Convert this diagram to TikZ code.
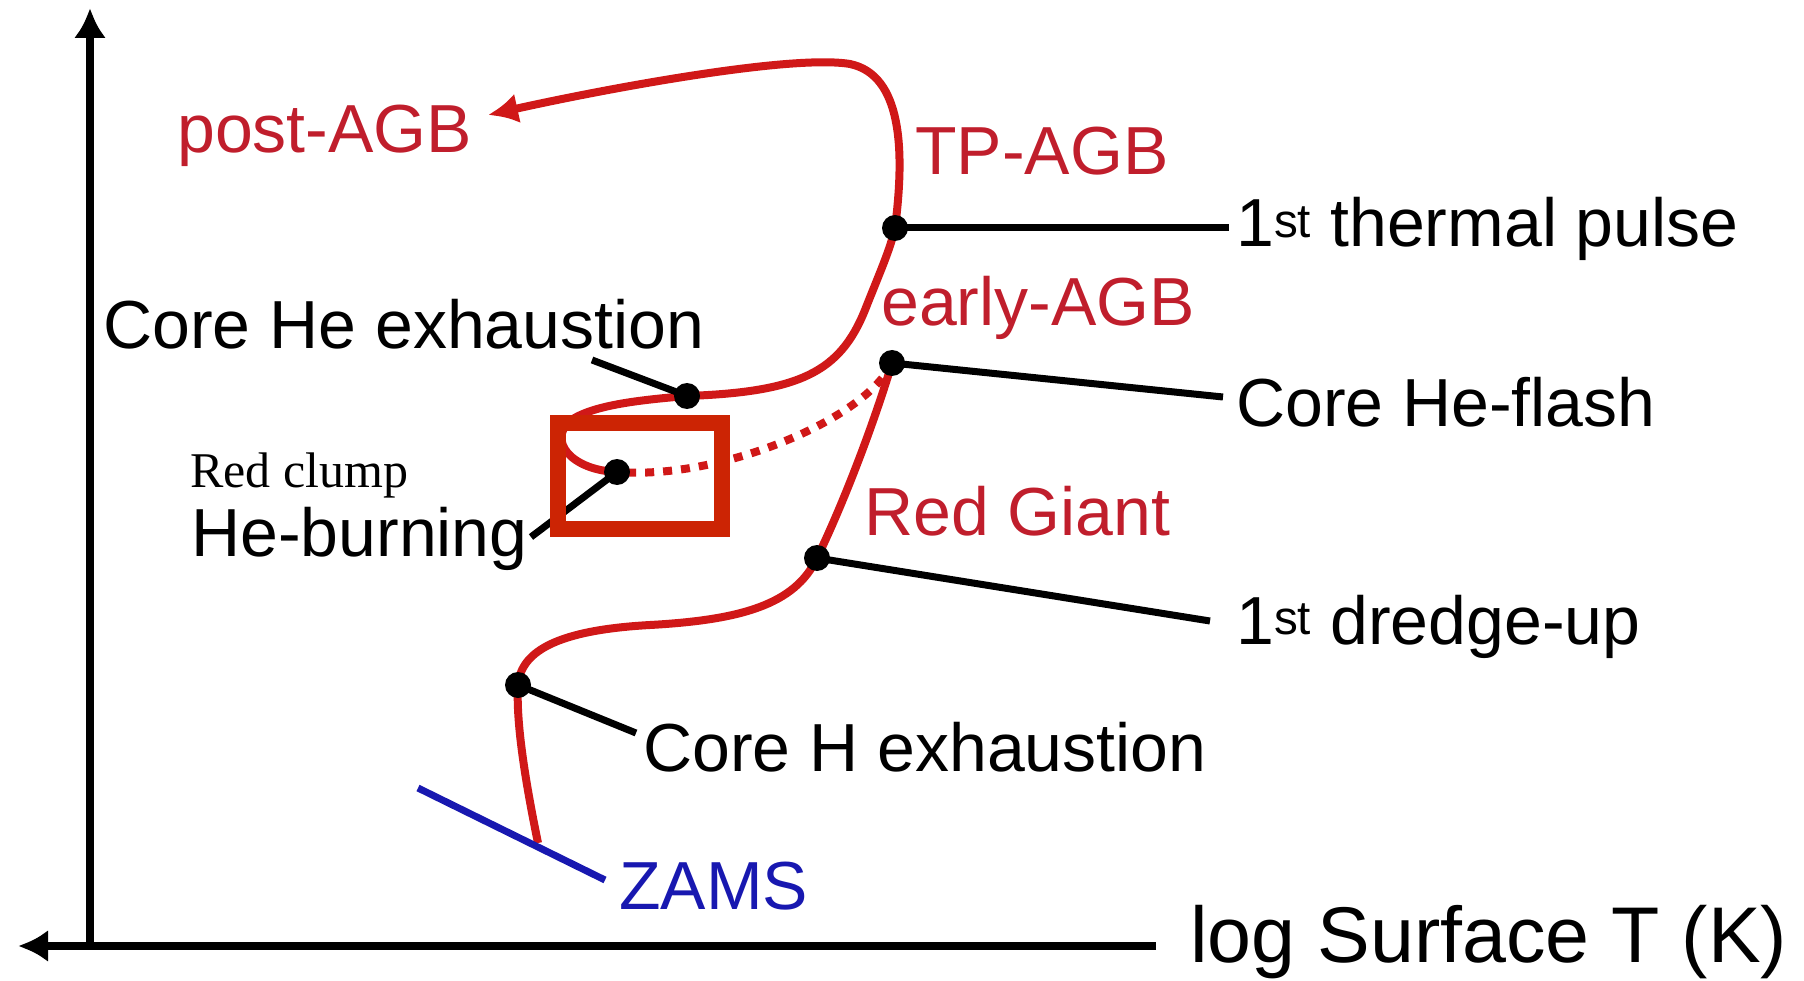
\documentclass[tikz,border=0pt]{standalone}
\usepackage{fontspec}
\setmainfont{Liberation Sans}
\newfontfamily\clumpfont{Liberation Serif}
\usepackage{xcolor}
\usetikzlibrary{arrows.meta}
\definecolor{trackred}{RGB}{208,24,24}
\definecolor{labred}{RGB}{192,30,44}
\definecolor{boxred}{RGB}{204,36,4}
\definecolor{zamsblue}{RGB}{24,24,176}

\begin{document}
\begin{tikzpicture}[x=1pt,y=-1pt,
        track/.style={trackred,line width=8pt},
        leader/.style={black,line width=7pt},
        axis/.style={black,line width=8pt,-{Latex[length=30pt,width=32pt]}},
        lab/.style={inner sep=0pt,anchor=base west,font=\fontsize{68}{80}\selectfont},
        phase/.style={lab,text=labred}]
    \useasboundingbox (0,0) rectangle (1804,981);

    % axes
    \coordinate (O) at (90,946);
    \coordinate (ytip) at (90,8);
    \coordinate (xend) at (1156,946);
    \coordinate (xtip) at (18,946);
    \draw[axis] (O) -- (ytip);
    \draw[axis] (xend) -- (xtip);
    \node[lab,font=\fontsize{79}{90}\selectfont] (xlab) at (1190,962) {log Surface T (K)};

    % points on the track
    \coordinate (zams) at (538,843);
    \coordinate (hexh) at (518,685);
    \coordinate (dredge) at (817,558);
    \coordinate (flash) at (892,363);
    \coordinate (clump) at (617,472);
    \coordinate (heexh) at (687,396);
    \coordinate (tp) at (895,228);
    \coordinate (pagb) at (488,115);

    \draw[track] (zams) .. controls (524,775) and (516,720) .. (hexh)
        .. controls (521,650) and (560,630) .. (650,625)
        .. controls (740,620) and (795,605) .. (dredge)
        .. controls (845,500) and (875,420) .. (flash);
    \draw[track,dash pattern=on 9pt off 9pt] (flash) .. controls (865,420) and (720,480) .. (clump);
    \draw[track,-{Latex[length=30pt,width=30pt]}] (clump) .. controls (570,470) and (548,440) .. (570,421)
        .. controls (592,405) and (640,400) .. (heexh)
        .. controls (800,392) and (840,372) .. (865,310)
        .. controls (880,272) and (890,250) .. (tp)
        .. controls (905,150) and (902,75) .. (850,64)
        .. controls (790,54) and (600,90) .. (pagb);

    % ZAMS
    \coordinate (zamsa) at (418,788);
    \coordinate (zamsb) at (605,880);
    \draw[zamsblue,line width=7pt] (zamsa) -- (zamsb);
    \node[lab,text=zamsblue] (zamslab) at (619,909) {ZAMS};

    % phases
    \node[phase] (postagb) at (177,153) {post-AGB};
    \node[phase] (tpagb) at (915,175) {TP-AGB};
    \node[phase] (eagb) at (881,326) {early-AGB};
    \node[phase] (rg) at (864,535) {Red Giant};

    % events
    \node[lab] (tplab) at (1236,247) {1\textsuperscript{st} thermal pulse};
    \node[lab] (flashlab) at (1236,426) {Core He-flash};
    \node[lab] (dredgelab) at (1236,644) {1\textsuperscript{st} dredge-up};
    \node[lab] (hexhlab) at (643,771) {Core H exhaustion};
    \node[lab] (heexhlab) at (103,349) {Core He exhaustion};
    \node[lab,font=\clumpfont\fontsize{50}{60}\selectfont] (rclab) at (190,487) {Red clump};
    \node[lab] (heblab) at (191,556) {He-burning};

    \coordinate (tpend) at (1229,228);
    \coordinate (flashend) at (1223,397);
    \coordinate (dredgeend) at (1210,621);
    \coordinate (hexhend) at (636,733);
    \coordinate (heexhend) at (592,360);
    \coordinate (hebend) at (531,537);
    \draw[leader] (tp) -- (tpend);
    \draw[leader] (flash) -- (flashend);
    \draw[leader] (dredge) -- (dredgeend);
    \draw[leader] (hexh) -- (hexhend);
    \draw[leader] (heexhend) -- (heexh);
    \draw[leader] (hebend) -- (clump);

    \foreach \p in {tp,flash,dredge,hexh,heexh,clump}
        \fill (\p) circle (13pt);

    \draw[boxred,line width=16pt] (558,423) rectangle (722,529);
\end{tikzpicture}
\end{document}
